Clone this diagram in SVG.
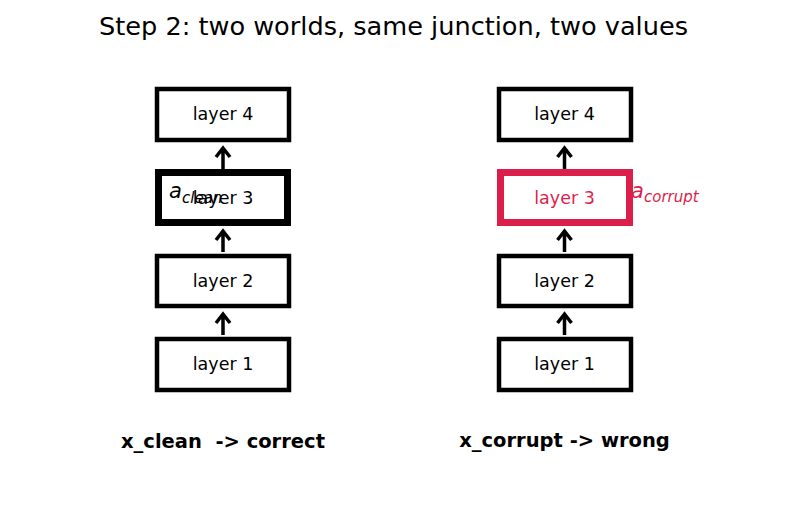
<svg xmlns="http://www.w3.org/2000/svg" width="787" height="512" viewBox="0 0 787 512">
<style>
text{font-family:"DejaVu Sans",sans-serif}
.box{fill:#fff;stroke:#000;stroke-width:4.5}
.lbl{font-size:17.5px;text-anchor:middle}
.arr{fill:none;stroke:#000;stroke-width:3.5}
.cap{font-size:19.5px;font-weight:bold;text-anchor:middle}
.red{fill:#dc1e4b}
</style>
<rect width="787" height="512" fill="#fff"/>
<text x="393.5" y="35" font-size="25.6" text-anchor="middle">Step 2: two worlds, same junction, two values</text>
<g id="connectors">
<path class="arr" d="M223 169V148M216 157L223 148L230 157"/>
<path class="arr" d="M223 252V231M216 240L223 231L230 240"/>
<path class="arr" d="M223 335V314M216 323L223 314L230 323"/>
<path class="arr" d="M564.5 169V148M557.5 157L564.5 148L571.5 157"/>
<path class="arr" d="M564.5 252V231M557.5 240L564.5 231L571.5 240"/>
<path class="arr" d="M564.5 335V314M557.5 323L564.5 314L571.5 323"/>
</g>
<g id="L4"><rect class="box" x="157" y="89" width="132" height="51"/><text class="lbl" x="223" y="120">layer 4</text></g>
<g id="L3"><rect class="box" x="158.5" y="172.5" width="129" height="50" style="stroke-width:7"/><text class="lbl" x="223" y="203.5">layer 3</text>
<text x="169" y="198" font-size="21" font-style="italic">a</text><text x="182" y="202.5" font-size="15" font-style="italic">clean</text></g>
<g id="L2"><rect class="box" x="157" y="256" width="132" height="50"/><text class="lbl" x="223" y="287">layer 2</text></g>
<g id="L1"><rect class="box" x="157" y="339" width="132" height="51"/><text class="lbl" x="223" y="370">layer 1</text></g>
<g id="R4"><rect class="box" x="499" y="89" width="132" height="51"/><text class="lbl" x="564.5" y="120">layer 4</text></g>
<g id="R3"><rect class="box" x="500.5" y="172.5" width="129" height="50" style="stroke:#dc1e4b;stroke-width:7"/><text class="lbl red" x="564.5" y="203.5">layer 3</text>
<text class="red" x="631" y="198" font-size="21" font-style="italic">a</text><text class="red" x="644" y="202" font-size="15" font-style="italic">corrupt</text></g>
<g id="R2"><rect class="box" x="499" y="256" width="132" height="50"/><text class="lbl" x="564.5" y="287">layer 2</text></g>
<g id="R1"><rect class="box" x="499" y="339" width="132" height="51"/><text class="lbl" x="564.5" y="370">layer 1</text></g>
<text class="cap" x="223" y="448" xml:space="preserve">x_clean  -&gt; correct</text>
<text class="cap" x="564.5" y="447">x_corrupt -&gt; wrong</text>
</svg>
